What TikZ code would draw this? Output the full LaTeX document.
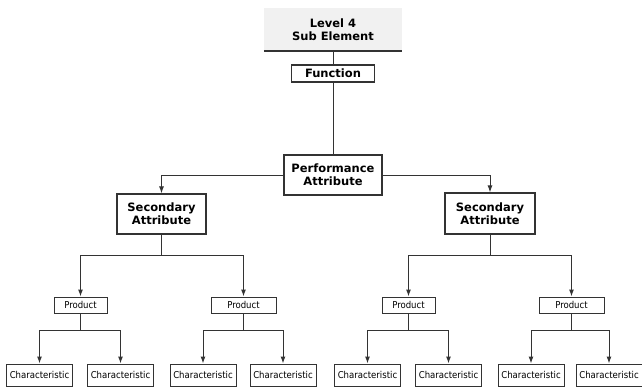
\documentclass[tikz,border=0pt]{standalone}
\usepackage{fontspec}
\setmainfont{DejaVu Sans}
\newfontfamily\condfont{DejaVu Sans Condensed}
\usetikzlibrary{arrows.meta}
\definecolor{linegray}{HTML}{333333}
\definecolor{headgray}{HTML}{F1F1F1}
\tikzset{
	bigbox/.style={draw=linegray, line width=1.2pt, fill=white, align=center, font=\bfseries\fontsize{11.5}{13}\selectfont, inner sep=0pt},
	prodbox/.style={draw=linegray, line width=1pt, fill=white, font=\condfont\fontsize{9.5}{10}\selectfont, inner sep=0pt, minimum height=16pt},
	charbox/.style={draw=linegray, line width=1pt, fill=white, font=\condfont\fontsize{9.5}{10}\selectfont, inner sep=0pt, minimum width=66pt, minimum height=22pt},
	link/.style={draw=linegray, line width=1pt},
	arrow/.style={link, -{Latex[length=7pt,width=5pt]}}
}
\begin{document}
\begin{tikzpicture}[x=1pt, y=-1pt]
	\useasboundingbox (0,0) rectangle (642,388);
	% header and top of the tree
	\node[fill=headgray, minimum width=138pt, minimum height=43pt, align=center, inner sep=0pt,
		font=\bfseries\fontsize{11.5}{13}\selectfont] (L4) at (333, 29.5) {Level 4\\Sub Element};
	\draw[linegray, line width=2pt] (L4.south west) -- (L4.south east);
	\node[bigbox, minimum width=83pt, minimum height=17pt] (F) at (333, 73.5) {Function};
	\node[bigbox, minimum width=98pt, minimum height=40pt] (PA) at (333, 175) {Performance\\Attribute};

	% secondary attributes
	\node[bigbox, minimum width=89pt, minimum height=40pt] (SA1) at (161.5, 214) {Secondary\\Attribute};
	\node[bigbox, minimum width=90pt, minimum height=41pt] (SA2) at (490, 213.5) {Secondary\\Attribute};

	% products
	\node[prodbox, minimum width=53pt] (P1) at (80.5, 305) {Product};
	\node[prodbox, minimum width=65pt] (P2) at (243.5, 305) {Product};
	\node[prodbox, minimum width=53pt] (P3) at (408.5, 305) {Product};
	\node[prodbox, minimum width=65pt] (P4) at (571.5, 305) {Product};

	% characteristics
	\foreach \i/\x in {1/39.5, 2/120.5, 3/203, 4/283, 5/367.5, 6/448.5, 7/531, 8/609}
		\node[charbox] (C\i) at (\x, 375) {Characteristic};

	% connectors
	\draw[link] (L4.south) -- (F.north);
	\draw[link] (F.south) -- (PA.north);
	\draw[arrow] (PA.west) -| (SA1.north);
	\draw[arrow] (PA.east) -| (SA2.north);

	\draw[arrow] (SA1.south) -- ++(0,21) -| (P1.north);
	\draw[arrow] (SA1.south) -- ++(0,21) -| (P2.north);
	\draw[arrow] (SA2.south) -- ++(0,21) -| (P3.north);
	\draw[arrow] (SA2.south) -- ++(0,21) -| (P4.north);

	\foreach \p/\a/\b in {1/1/2, 2/3/4, 3/5/6, 4/7/8} {
		\draw[arrow] (P\p.south) -- ++(0,17) -| (C\a.north);
		\draw[arrow] (P\p.south) -- ++(0,17) -| (C\b.north);
	}
\end{tikzpicture}
\end{document}
